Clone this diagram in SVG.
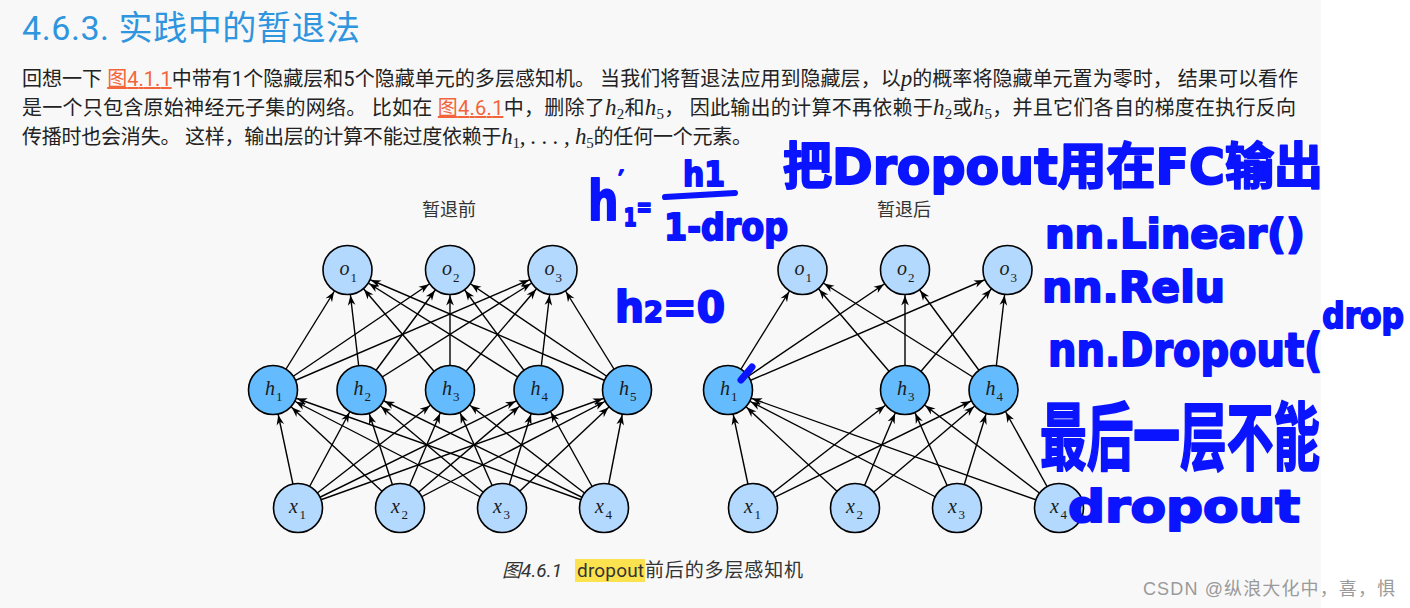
<svg xmlns="http://www.w3.org/2000/svg" width="1410" height="608" viewBox="0 0 1410 608">
<style>
.p{font-family:Roboto,"Noto Sans CJK SC",sans-serif;font-size:20px;fill:#222}
.lk{fill:#f2653a;text-decoration:underline}
.m{font-family:"Liberation Serif","DejaVu Serif",serif;font-style:italic;font-size:23px}
.ms{font-family:"Liberation Serif","DejaVu Serif",serif;font-size:15px}
.cap{font-family:Roboto,"Noto Sans CJK SC",sans-serif;font-size:19px;fill:#333}
.edge{stroke:#000;stroke-width:1.4;fill:none;marker-end:url(#ah)}
.nl{fill:#b3d9fe;stroke:#000;stroke-width:1.6}
.nd{fill:#64bcfe;stroke:#000;stroke-width:1.6}
.lab{font-family:"Liberation Serif","DejaVu Serif",serif;font-style:italic;font-size:20px;fill:#1a1a1a}
.sub{font-size:13px;font-style:normal}
.hw{font-family:"DejaVu Sans","Noto Sans CJK SC",sans-serif;font-weight:bold;fill:#0a14ff;stroke:#0a14ff;stroke-width:2;stroke-linejoin:round}
</style>
<defs>
<marker id="ah" markerUnits="userSpaceOnUse" markerWidth="40" markerHeight="12" refX="25.5" refY="0" orient="auto" overflow="visible">
<path d="M0,0 L-10,-3.8 L-7,0 L-10,3.8 Z" fill="#000"/>
</marker>
</defs>
<rect x="0" y="0" width="1410" height="608" fill="#ffffff"/>
<rect x="0" y="0" width="1321" height="608" fill="#f8f8f8"/>

<text x="22" y="40" font-family="Roboto,'Noto Sans CJK SC',sans-serif" font-size="34" fill="#2f95de" textLength="338">4.6.3. 实践中的暂退法</text>

<text class="p" x="22" y="86" textLength="1276">回想一下 <tspan class="lk">图4.1.1</tspan>中带有1个隐藏层和5个隐藏单元的多层感知机。 当我们将暂退法应用到隐藏层，以<tspan class="m">p</tspan>的概率将隐藏单元置为零时， 结果可以看作</text>
<text class="p" x="22" y="115" textLength="1274">是一个只包含原始神经元子集的网络。 比如在 <tspan class="lk">图4.6.1</tspan>中，删除了<tspan class="m">h</tspan><tspan class="ms" dy="4">2</tspan><tspan dy="-4">和</tspan><tspan class="m">h</tspan><tspan class="ms" dy="4">5</tspan><tspan dy="-4">， 因此输出的计算不再依赖于</tspan><tspan class="m">h</tspan><tspan class="ms" dy="4">2</tspan><tspan dy="-4">或</tspan><tspan class="m">h</tspan><tspan class="ms" dy="4">5</tspan><tspan dy="-4">，并且它们各自的梯度在执行反向</tspan></text>
<text class="p" x="22" y="144" textLength="730">传播时也会消失。 这样，输出层的计算不能过度依赖于<tspan class="m">h</tspan><tspan class="ms" dy="4">1</tspan><tspan class="m" dy="-4">, . . . , h</tspan><tspan class="ms" dy="4">5</tspan><tspan dy="-4">的任何一个元素。</tspan></text>

<text x="449" y="216" text-anchor="middle" font-family="'Noto Sans CJK SC',sans-serif" font-size="18" fill="#333">暂退前</text>
<text x="904" y="216" text-anchor="middle" font-family="'Noto Sans CJK SC',sans-serif" font-size="18" fill="#333">暂退后</text>

<g id="connectors">
<line class="edge" x1="273" y1="390" x2="347.5" y2="270"/>
<line class="edge" x1="273" y1="390" x2="450" y2="270"/>
<line class="edge" x1="273" y1="390" x2="552.5" y2="270"/>
<line class="edge" x1="361.5" y1="390" x2="347.5" y2="270"/>
<line class="edge" x1="361.5" y1="390" x2="450" y2="270"/>
<line class="edge" x1="361.5" y1="390" x2="552.5" y2="270"/>
<line class="edge" x1="450" y1="390" x2="347.5" y2="270"/>
<line class="edge" x1="450" y1="390" x2="450" y2="270"/>
<line class="edge" x1="450" y1="390" x2="552.5" y2="270"/>
<line class="edge" x1="538.5" y1="390" x2="347.5" y2="270"/>
<line class="edge" x1="538.5" y1="390" x2="450" y2="270"/>
<line class="edge" x1="538.5" y1="390" x2="552.5" y2="270"/>
<line class="edge" x1="627" y1="390" x2="347.5" y2="270"/>
<line class="edge" x1="627" y1="390" x2="450" y2="270"/>
<line class="edge" x1="627" y1="390" x2="552.5" y2="270"/>

<line class="edge" x1="298" y1="508" x2="273" y2="390"/>
<line class="edge" x1="298" y1="508" x2="361.5" y2="390"/>
<line class="edge" x1="298" y1="508" x2="450" y2="390"/>
<line class="edge" x1="298" y1="508" x2="538.5" y2="390"/>
<line class="edge" x1="298" y1="508" x2="627" y2="390"/>
<line class="edge" x1="400" y1="508" x2="273" y2="390"/>
<line class="edge" x1="400" y1="508" x2="361.5" y2="390"/>
<line class="edge" x1="400" y1="508" x2="450" y2="390"/>
<line class="edge" x1="400" y1="508" x2="538.5" y2="390"/>
<line class="edge" x1="400" y1="508" x2="627" y2="390"/>
<line class="edge" x1="502" y1="508" x2="273" y2="390"/>
<line class="edge" x1="502" y1="508" x2="361.5" y2="390"/>
<line class="edge" x1="502" y1="508" x2="450" y2="390"/>
<line class="edge" x1="502" y1="508" x2="538.5" y2="390"/>
<line class="edge" x1="502" y1="508" x2="627" y2="390"/>
<line class="edge" x1="604" y1="508" x2="273" y2="390"/>
<line class="edge" x1="604" y1="508" x2="361.5" y2="390"/>
<line class="edge" x1="604" y1="508" x2="450" y2="390"/>
<line class="edge" x1="604" y1="508" x2="538.5" y2="390"/>
<line class="edge" x1="604" y1="508" x2="627" y2="390"/>

<line class="edge" x1="728" y1="390" x2="802.5" y2="270"/>
<line class="edge" x1="728" y1="390" x2="905" y2="270"/>
<line class="edge" x1="728" y1="390" x2="1007.5" y2="270"/>
<line class="edge" x1="905" y1="390" x2="802.5" y2="270"/>
<line class="edge" x1="905" y1="390" x2="905" y2="270"/>
<line class="edge" x1="905" y1="390" x2="1007.5" y2="270"/>
<line class="edge" x1="993.5" y1="390" x2="802.5" y2="270"/>
<line class="edge" x1="993.5" y1="390" x2="905" y2="270"/>
<line class="edge" x1="993.5" y1="390" x2="1007.5" y2="270"/>

<line class="edge" x1="753" y1="508" x2="728" y2="390"/>
<line class="edge" x1="753" y1="508" x2="905" y2="390"/>
<line class="edge" x1="753" y1="508" x2="993.5" y2="390"/>
<line class="edge" x1="855" y1="508" x2="728" y2="390"/>
<line class="edge" x1="855" y1="508" x2="905" y2="390"/>
<line class="edge" x1="855" y1="508" x2="993.5" y2="390"/>
<line class="edge" x1="957" y1="508" x2="728" y2="390"/>
<line class="edge" x1="957" y1="508" x2="905" y2="390"/>
<line class="edge" x1="957" y1="508" x2="993.5" y2="390"/>
<line class="edge" x1="1059" y1="508" x2="728" y2="390"/>
<line class="edge" x1="1059" y1="508" x2="905" y2="390"/>
<line class="edge" x1="1059" y1="508" x2="993.5" y2="390"/>
</g>

<g id="L-o1"><circle class="nl" cx="347.5" cy="270" r="24.5"/><text class="lab" x="339.5" y="275">o<tspan class="sub" x="350.5" y="282">1</tspan></text></g>
<g id="L-o2"><circle class="nl" cx="450" cy="270" r="24.5"/><text class="lab" x="442" y="275">o<tspan class="sub" x="453" y="282">2</tspan></text></g>
<g id="L-o3"><circle class="nl" cx="552.5" cy="270" r="24.5"/><text class="lab" x="544.5" y="275">o<tspan class="sub" x="555.5" y="282">3</tspan></text></g>
<g id="L-h1"><circle class="nd" cx="273" cy="390" r="24.5"/><text class="lab" x="265" y="395">h<tspan class="sub" x="276" y="401">1</tspan></text></g>
<g id="L-h2"><circle class="nd" cx="361.5" cy="390" r="24.5"/><text class="lab" x="353.5" y="395">h<tspan class="sub" x="364.5" y="401">2</tspan></text></g>
<g id="L-h3"><circle class="nd" cx="450" cy="390" r="24.5"/><text class="lab" x="442" y="395">h<tspan class="sub" x="453" y="401">3</tspan></text></g>
<g id="L-h4"><circle class="nd" cx="538.5" cy="390" r="24.5"/><text class="lab" x="530.5" y="395">h<tspan class="sub" x="541.5" y="401">4</tspan></text></g>
<g id="L-h5"><circle class="nd" cx="627" cy="390" r="24.5"/><text class="lab" x="619" y="395">h<tspan class="sub" x="630" y="401">5</tspan></text></g>
<g id="L-x1"><circle class="nl" cx="298" cy="508" r="24.5"/><text class="lab" x="289" y="513">x<tspan class="sub" x="299.5" y="519">1</tspan></text></g>
<g id="L-x2"><circle class="nl" cx="400" cy="508" r="24.5"/><text class="lab" x="391" y="513">x<tspan class="sub" x="401.5" y="519">2</tspan></text></g>
<g id="L-x3"><circle class="nl" cx="502" cy="508" r="24.5"/><text class="lab" x="493" y="513">x<tspan class="sub" x="503.5" y="519">3</tspan></text></g>
<g id="L-x4"><circle class="nl" cx="604" cy="508" r="24.5"/><text class="lab" x="595" y="513">x<tspan class="sub" x="605.5" y="519">4</tspan></text></g>

<g id="R-o1"><circle class="nl" cx="802.5" cy="270" r="24.5"/><text class="lab" x="794.5" y="275">o<tspan class="sub" x="805.5" y="282">1</tspan></text></g>
<g id="R-o2"><circle class="nl" cx="905" cy="270" r="24.5"/><text class="lab" x="897" y="275">o<tspan class="sub" x="908" y="282">2</tspan></text></g>
<g id="R-o3"><circle class="nl" cx="1007.5" cy="270" r="24.5"/><text class="lab" x="999.5" y="275">o<tspan class="sub" x="1010.5" y="282">3</tspan></text></g>
<g id="R-h1"><circle class="nd" cx="728" cy="390" r="24.5"/><text class="lab" x="720" y="395">h<tspan class="sub" x="731" y="401">1</tspan></text></g>
<g id="R-h3"><circle class="nd" cx="905" cy="390" r="24.5"/><text class="lab" x="897" y="395">h<tspan class="sub" x="908" y="401">3</tspan></text></g>
<g id="R-h4"><circle class="nd" cx="993.5" cy="390" r="24.5"/><text class="lab" x="985.5" y="395">h<tspan class="sub" x="996.5" y="401">4</tspan></text></g>
<g id="R-x1"><circle class="nl" cx="753" cy="508" r="24.5"/><text class="lab" x="744" y="513">x<tspan class="sub" x="754.5" y="519">1</tspan></text></g>
<g id="R-x2"><circle class="nl" cx="855" cy="508" r="24.5"/><text class="lab" x="846" y="513">x<tspan class="sub" x="856.5" y="519">2</tspan></text></g>
<g id="R-x3"><circle class="nl" cx="957" cy="508" r="24.5"/><text class="lab" x="948" y="513">x<tspan class="sub" x="958.5" y="519">3</tspan></text></g>
<g id="R-x4"><circle class="nl" cx="1059" cy="508" r="24.5"/><text class="lab" x="1050" y="513">x<tspan class="sub" x="1060.5" y="519">4</tspan></text></g>

<rect x="575" y="559" width="70" height="23" fill="#fde24f"/>
<text class="cap" x="502" y="577" font-style="italic" textLength="60">图4.6.1</text>
<text class="cap" x="577" y="577" textLength="67">dropout</text>
<text class="cap" x="645" y="577" textLength="158">前后的多层感知机</text>

<text x="1143" y="595" font-family="'Liberation Sans','Noto Sans CJK SC',sans-serif" font-size="18" fill="#9a9a9a" textLength="252">CSDN @纵浪大化中，喜，惧</text>

<g id="handwriting">
<text class="hw" x="588" y="220" font-size="56" textLength="64" lengthAdjust="spacingAndGlyphs">h<tspan font-size="26" dy="-30">′</tspan><tspan font-size="24" dy="36">1</tspan><tspan font-size="24" dy="-10">=</tspan></text>
<path d="M665,197 L735,193" stroke="#0a14ff" stroke-width="6" stroke-linecap="round" fill="none"/>
<text class="hw" x="683" y="186" font-size="34" textLength="42" lengthAdjust="spacingAndGlyphs">h1</text>
<text class="hw" x="664" y="240" font-size="38" textLength="124" lengthAdjust="spacingAndGlyphs">1-drop</text>
<text class="hw" x="783" y="184" font-size="50" textLength="540" lengthAdjust="spacingAndGlyphs">把Dropout用在FC输出</text>
<text class="hw" x="1045" y="248" font-size="40" textLength="260" lengthAdjust="spacingAndGlyphs">nn.Linear()</text>
<text class="hw" x="615" y="322" font-size="42" textLength="110" lengthAdjust="spacingAndGlyphs">h<tspan font-size="28">2</tspan>=0</text>
<text class="hw" x="1042" y="302" font-size="42" textLength="183" lengthAdjust="spacingAndGlyphs">nn.Relu</text>
<text class="hw" x="1048" y="366" font-size="46" textLength="356" lengthAdjust="spacingAndGlyphs">nn.Dropout(<tspan font-size="36" dy="-38">drop</tspan></text>
<text class="hw" x="1040" y="464" font-size="74" textLength="280" lengthAdjust="spacingAndGlyphs">最后一层不能</text>
<text class="hw" x="1068" y="522" font-size="44" textLength="232" lengthAdjust="spacingAndGlyphs">dropout</text>
<path d="M741,380 L752,367" stroke="#0a14ff" stroke-width="7" stroke-linecap="round" fill="none"/>
</g>
</svg>
